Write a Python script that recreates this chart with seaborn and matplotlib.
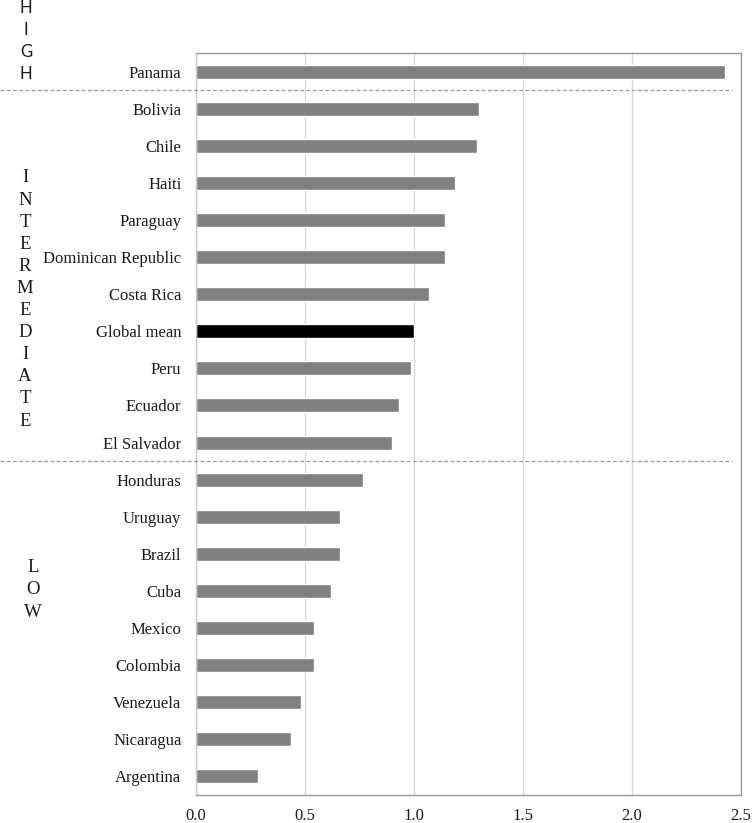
import numpy as np
import pandas as pd
import matplotlib
matplotlib.use("Agg")
import matplotlib.pyplot as plt
import matplotlib.transforms as mtransforms
from matplotlib.lines import Line2D
import seaborn as sns

countries = ["Panama", "Bolivia", "Chile", "Haiti", "Paraguay", "Dominican Republic",
             "Costa Rica", "Global mean", "Peru", "Ecuador", "El Salvador", "Honduras",
             "Uruguay", "Brazil", "Cuba", "Mexico", "Colombia", "Venezuela",
             "Nicaragua", "Argentina"]
values = [2.43, 1.30, 1.29, 1.19, 1.145, 1.145, 1.07, 1.00, 0.985, 0.93, 0.90, 0.765,
          0.663, 0.66, 0.62, 0.54, 0.54, 0.48, 0.436, 0.285]
group_names = ["HIGH", "INTERMEDIATE", "LOW"]
group_sizes = [1, 10, 9]
x_ticks = [0.0, 0.5, 1.0, 1.5, 2.0, 2.5]

df = pd.DataFrame({"country": countries, "value": values})
colors = {c: ("#000000" if c == "Global mean" else "#808080") for c in countries}

sns.set_theme(style="white")
plt.rcParams["font.family"] = ["Liberation Serif", "DejaVu Serif"]

fig = plt.figure(figsize=(7.52, 8.23), dpi=100)
ax = fig.add_axes([196 / 752, 1 - 795 / 823, (740.5 - 196) / 752, (795 - 53) / 823])

ax.set_axisbelow(True)
ax.grid(axis="x", color="#d9d9d9", linewidth=1.0)
sns.barplot(data=df, x="value", y="country", hue="country", palette=colors,
            legend=False, width=0.38, orient="h", ax=ax, saturation=1)

ax.set_xlim(0, 2.5)
ax.set_ylim(len(countries) - 0.5, -0.5)
ax.set_xticks(x_ticks)
ax.set_xticklabels([f"{t:.1f}" for t in x_ticks])
ax.set_xlabel("")
ax.set_ylabel("")
ax.tick_params(axis="x", length=0, pad=9.5, labelsize=12, colors="#1a1a1a")
ax.tick_params(axis="y", length=0, pad=10.5, labelsize=12, colors="#1a1a1a")

for side in ["top", "right", "bottom"]:
    ax.spines[side].set_color("#9a9a9a")
    ax.spines[side].set_linewidth(1.0)
ax.spines["left"].set_color("#c8c8c8")
ax.spines["left"].set_linewidth(1.0)

# dashed separators between groups, spanning from the figure edge
trans = mtransforms.blended_transform_factory(fig.transFigure, ax.transData)
cum = np.cumsum(group_sizes)
for b in cum[:-1]:
    fig.add_artist(Line2D([0, 732 / 752], [b - 0.5, b - 0.5], transform=trans,
                          color="#9a9a9a", linewidth=0.9, linestyle=(0, (3, 2))))

# vertical group labels, one letter per line
group_cfg = [
    (41, 26, ["Lato", "DejaVu Sans"], 12),
    (299.5, 25, ["Liberation Serif"], 13.5),
    (590, 33, ["Liberation Serif"], 13.5),
]
step = 22.1
for name, (cy, cx, fam, fs) in zip(group_names, group_cfg):
    n = len(name)
    for i, ch in enumerate(name):
        y = cy + (i - (n - 1) / 2) * step
        fig.text(cx / 752, 1 - y / 823, ch, ha="center", va="center",
                 family=fam, fontsize=fs, color="#1a1a1a")

fig.savefig("out.png", dpi=100)
